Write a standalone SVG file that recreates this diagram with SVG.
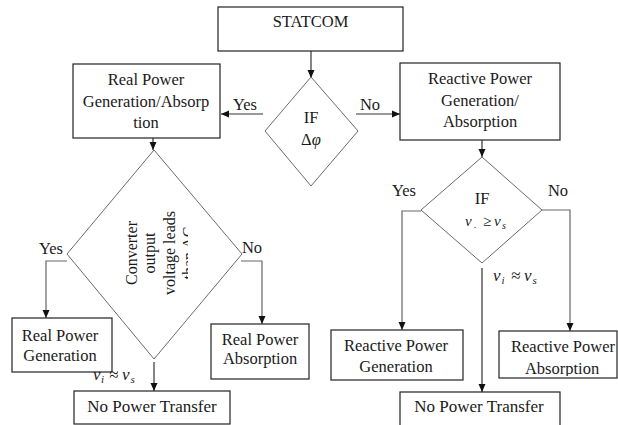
<svg xmlns="http://www.w3.org/2000/svg" width="618" height="425" viewBox="0 0 618 425">
<style>
.box{fill:#fff;stroke:#222;stroke-width:1.2}
.dia{fill:#fff;stroke:#6a6a6a;stroke-width:1}
.ln{fill:none;stroke:#333;stroke-width:1.2}
.lg{fill:none;stroke:#666;stroke-width:1.2}
text{font-family:"Liberation Serif","Times New Roman",serif;font-size:16.5px;fill:#1a1a1a}
.c{text-anchor:middle}
.m{font-style:italic;font-size:17px}
.ms{font-style:italic;font-size:11px}
.rt{font-size:16px;text-anchor:middle}
</style>
<defs>
<marker id="ah" markerUnits="userSpaceOnUse" markerWidth="8" markerHeight="8" refX="8" refY="4" orient="auto">
<path d="M0,0.5 L8,4 L0,7.5 z" fill="#111"/>
</marker>
<clipPath id="clipRot"><rect x="100" y="150" width="88" height="210"/></clipPath>
<clipPath id="clipRPA"><rect x="499" y="331" width="119" height="45"/></clipPath>
</defs>

<g id="connectors">
<line class="ln" x1="311" y1="51" x2="311" y2="78" marker-end="url(#ah)"/>
<line class="ln" x1="263" y1="114" x2="221" y2="114" marker-end="url(#ah)"/>
<line class="ln" x1="356" y1="114" x2="400" y2="114" marker-end="url(#ah)"/>
<line class="ln" x1="482" y1="140" x2="482" y2="157" marker-end="url(#ah)"/>
<polyline class="lg" points="421,211 402,211 402,330" marker-end="url(#ah)"/>
<polyline class="lg" points="542,210 570,210 570,331" marker-end="url(#ah)"/>
<line class="ln" x1="482" y1="268" x2="482" y2="392" marker-end="url(#ah)"/>
<line class="ln" x1="153" y1="138" x2="153" y2="150" marker-end="url(#ah)"/>
<polyline class="lg" points="67,261 46,261 46,318" marker-end="url(#ah)"/>
<polyline class="lg" points="241,261 262,261 262,324" marker-end="url(#ah)"/>
<line class="ln" x1="154" y1="362" x2="154" y2="391" marker-end="url(#ah)"/>
</g>

<g id="labels">
<text class="c" x="245" y="110">Yes</text>
<text class="c" x="370" y="110">No</text>
<text class="c" x="404" y="196">Yes</text>
<text class="c" x="558" y="196">No</text>
<text class="c" x="51" y="254">Yes</text>
<text class="c" x="252" y="253">No</text>
<text class="m" x="493" y="281">v</text>
<text class="ms" x="501.5" y="284">i</text>
<text class="m" x="511" y="281">≈</text>
<text class="m" x="524" y="281">v</text>
<text class="ms" x="532.5" y="284">s</text>
</g>

<g id="statcom">
<rect class="box" x="218" y="7" width="185" height="44"/>
<text class="c" x="310.5" y="27">STATCOM</text>
</g>

<g id="if-phase">
<polygon class="dia" points="311,77 358,131 311,186 265,131"/>
<text class="c" x="311" y="123">IF</text>
<text class="c" x="311" y="145">Δ<tspan font-style="italic">φ</tspan></text>
</g>

<g id="real-gen-abs">
<rect class="box" x="73" y="64" width="147" height="74"/>
<text class="c" x="146" y="85">Real Power</text>
<text class="c" x="146" y="107">Generation/Absorp</text>
<text class="c" x="146" y="128">tion</text>
</g>

<g id="reactive-gen-abs">
<rect class="box" x="400" y="63" width="160" height="77"/>
<text class="c" x="480" y="84">Reactive Power</text>
<text class="c" x="480" y="106">Generation/</text>
<text class="c" x="480" y="127">Absorption</text>
</g>

<g id="if-voltage">
<polygon class="dia" points="482,157 542,210 482,263 421,210"/>
<text class="c" x="482" y="204">IF</text>
<text class="m" x="465" y="226" style="font-size:15px">v</text>
<text x="474" y="228" style="font-size:10px;font-style:italic">.</text>
<text x="483" y="226" style="font-size:15px">≥</text>
<text class="m" x="494" y="226" style="font-size:15px">v</text>
<text class="ms" x="502" y="229" style="font-size:10px">s</text>
</g>

<g id="converter-decision">
<polygon class="dia" points="154,150 242,254 154,359 67,254"/>
<g clip-path="url(#clipRot)">
<text class="rt" transform="translate(137,253) rotate(-90)">Converter</text>
<text class="rt" transform="translate(155,253) rotate(-90)">output</text>
<text class="rt" transform="translate(174.5,253) rotate(-90)">voltage leads</text>
<text class="rt" transform="translate(194,253) rotate(-90)">than AC</text>
</g>
</g>

<g id="real-gen">
<rect class="box" x="12" y="318" width="100" height="54"/>
<text class="c" x="60" y="341">Real Power</text>
<text class="c" x="60" y="361">Generation</text>
</g>

<g id="real-abs">
<rect class="box" x="211" y="324" width="98" height="55"/>
<text class="c" x="260" y="345">Real Power</text>
<text class="c" x="260" y="364">Absorption</text>
</g>

<g id="no-transfer-left">
<rect class="box" x="74" y="391" width="156" height="33"/>
<text class="c" x="152" y="412" style="font-size:17px">No Power Transfer</text>
</g>

<g id="left-approx">
<text class="m" x="93" y="380">v</text>
<text class="ms" x="101" y="383">i</text>
<text class="m" x="109" y="380">≈</text>
<text class="m" x="122" y="380">v</text>
<text class="ms" x="130.5" y="383">s</text>
</g>

<g id="reactive-gen">
<rect class="box" x="331" y="330" width="132" height="50"/>
<text class="c" x="396" y="351">Reactive Power</text>
<text class="c" x="396" y="372">Generation</text>
</g>

<g id="reactive-abs">
<rect class="box" x="499" y="331" width="118" height="47"/>
<g clip-path="url(#clipRPA)">
<text class="c" x="563" y="352">Reactive Power</text>
<text class="c" x="562" y="374">Absorption</text>
</g>
</g>

<g id="no-transfer-right">
<rect class="box" x="400" y="392" width="160" height="40"/>
<text class="c" x="479" y="412" style="font-size:17px">No Power Transfer</text>
</g>
</svg>
